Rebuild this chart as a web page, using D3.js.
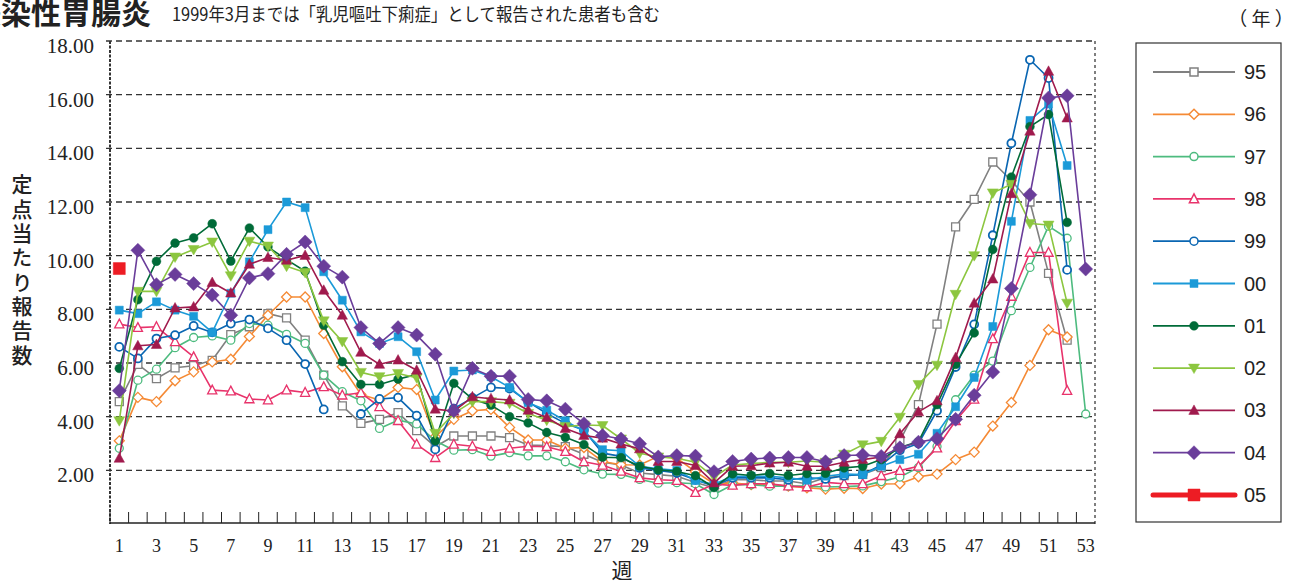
<!DOCTYPE html>
<html><head><meta charset="utf-8">
<script src="https://cdn.jsdelivr.net/npm/d3@7"></script>
<style>body{margin:0;background:#fff}svg{display:block}</style>
</head><body>
<svg id="c" width="1305" height="585"></svg>
<script>
const weeks = d3.range(1, 54);
const xTickLabels = d3.range(1, 54, 2);
const yTicks = [2, 4, 6, 8, 10, 12, 14, 16, 18];
const seriesNames = ["95","96","97","98","99","00","01","02","03","04","05"];

const v95 = [4.56,5.95,5.42,5.82,5.9,6.1,7.06,7.35,7.84,7.68,6.85,5.55,4.4,3.75,3.9,4.15,3.48,2.88,3.28,3.28,3.28,3.22,2.94,2.92,2.88,2.6,2.3,2.2,1.9,1.84,1.78,1.55,1.35,1.65,1.65,1.6,1.6,1.5,1.72,1.8,1.85,2.1,3.1,4.45,7.45,11.07,12.1,13.49,12.8,12.0,9.34,6.85,null];
const v96 = [3.1,4.72,4.56,5.34,5.67,6.04,6.14,6.99,7.78,8.46,8.46,7.1,5.86,4.83,4.62,5.09,5.01,3.25,3.9,4.22,4.27,3.6,3.13,3.13,2.82,2.85,2.33,2.21,2.2,2.52,2.45,1.95,1.5,1.53,1.47,1.47,1.41,1.35,1.3,1.33,1.32,1.49,1.5,1.76,1.86,2.4,2.68,3.65,4.53,5.91,7.24,6.97,null];
const v97 = [2.82,5.36,5.77,6.57,6.95,7.01,6.85,7.47,7.41,7.07,6.73,5.55,4.93,4.59,3.56,3.87,3.73,3.1,2.75,2.77,2.53,2.66,2.54,2.54,2.32,2.02,1.86,1.85,1.66,1.52,1.54,1.5,1.1,1.46,1.46,1.41,1.41,1.41,1.38,1.4,1.42,1.58,1.75,2.1,2.89,4.63,5.55,6.07,7.95,9.56,11.1,10.65,4.1];
const v98 = [7.45,7.32,7.35,6.79,6.23,4.99,4.95,4.66,4.62,4.99,4.9,5.11,4.8,4.89,4.37,3.85,2.97,2.47,2.97,2.9,2.7,2.82,2.9,2.88,2.7,2.32,2.19,1.96,1.72,1.65,1.62,1.17,1.48,1.44,1.5,1.5,1.41,1.38,1.55,1.5,1.5,1.8,1.99,2.15,2.83,3.85,4.65,6.9,8.48,10.12,10.12,4.97,null];
const v99 = [6.6,6.17,6.91,7.04,7.38,7.14,7.47,7.62,7.29,6.85,5.96,4.27,null,4.1,4.66,4.71,4.04,2.78,4.3,4.7,5.09,5.05,4.55,4.12,3.75,3.5,2.64,2.52,2.09,2.0,1.9,1.65,1.41,1.72,1.72,1.72,1.65,1.72,1.68,1.8,1.85,2.2,2.75,3.0,4.22,5.85,7.44,10.76,14.19,17.3,16.62,9.47,null];
const v00 = [7.97,7.84,8.28,7.97,7.74,7.14,8.6,9.77,10.97,12.0,11.79,9.4,8.34,7.16,6.73,6.98,6.42,4.62,5.7,5.74,5.49,5.09,4.52,4.24,3.85,3.45,2.77,2.73,2.15,2.06,2.0,1.62,1.48,1.78,1.78,1.78,1.72,1.63,1.78,1.86,1.84,2.15,2.4,2.6,3.38,4.37,5.46,7.36,11.28,15.04,15.65,13.36,null];
const v01 = [5.8,8.36,9.79,10.47,10.66,11.19,9.8,11.03,10.33,9.85,9.42,7.41,6.05,5.2,5.2,5.4,5.57,3.1,5.24,4.66,4.43,4.0,3.77,3.41,3.23,2.96,2.49,2.47,2.15,2.02,1.96,1.8,1.36,1.87,1.81,1.88,1.81,1.88,1.89,2.09,2.15,2.4,2.85,3.07,4.45,5.95,7.12,10.23,12.93,14.81,15.26,11.24,null];
const v02 = [3.85,8.67,8.67,9.95,10.23,10.51,9.25,10.54,10.36,9.61,9.37,7.57,6.8,5.65,5.49,5.61,5.45,3.38,4.12,4.56,4.56,4.5,4.12,3.87,3.63,3.69,3.67,3.17,2.64,2.5,2.45,2.3,1.75,2.2,2.25,2.3,2.3,2.35,2.3,2.6,2.95,3.08,3.98,5.2,5.92,8.56,10.0,12.34,12.66,11.2,11.14,8.23,null];
const v03 = [2.45,6.64,6.69,8.05,8.09,9.0,8.61,9.68,9.93,9.83,10.01,8.71,7.78,6.4,5.95,6.11,5.73,4.28,4.2,4.74,4.67,4.62,4.24,3.97,3.56,3.3,3.2,2.98,2.8,2.33,2.33,2.18,1.53,2.15,2.17,2.27,2.3,2.15,2.15,2.3,2.4,2.5,3.36,4.18,4.59,6.2,8.23,9.13,12.31,14.64,16.87,15.13,null];
const v04 = [4.97,10.2,8.92,9.3,8.96,8.53,7.78,9.17,9.33,10.05,10.51,9.61,9.2,7.32,6.73,7.32,7.04,6.33,4.22,5.8,5.51,5.51,4.64,4.59,4.28,3.74,3.3,3.17,2.99,2.5,2.55,2.53,1.95,2.33,2.42,2.46,2.48,2.48,2.32,2.55,2.57,2.52,2.84,3.05,3.18,3.9,4.8,5.66,8.78,12.27,15.88,15.96,9.5];
const v05 = [9.52,null,null,null,null,null,null,null,null,null,null,null,null,null,null,null,null,null,null,null,null,null,null,null,null,null,null,null,null,null,null,null,null,null,null,null,null,null,null,null,null,null,null,null,null,null,null,null,null,null,null,null,null];

const seriesValues = [v95, v96, v97, v98, v99, v00, v01, v02, v03, v04, v05];
const colors = ["#808080","#f58a35","#4dbb7f","#e8336b","#0a66b2","#1b9ad8","#006b38","#8cc63f","#a01a4d","#6a3d9a","#ed1c24"];
const markerTypes = ["sqOpen","diaOpen","circOpen","triOpen","circOpen","sq","circ","triDown","tri","dia","sqBig"];

const svg = d3.select("#c");
const x = d3.scaleBand().domain(weeks).range([110, 1095]);
const y = d3.scaleLinear().domain([0, 18]).range([524, 41]);
const cx = w => x(w) + x.bandwidth() / 2;

function markerPath(t) {
  switch (t) {
    case "sqOpen": return "M-4,-4H4V4H-4Z";
    case "sq": return "M-4,-4H4V4H-4Z";
    case "sqBig": return "M-6,-6H6V6H-6Z";
    case "diaOpen": return "M0,-5L5,0L0,5L-5,0Z";
    case "dia": return "M0,-7L7,0L0,7L-7,0Z";
    case "tri": return "M0,-5.5L5.2,4L-5.2,4Z";
    case "triOpen": return "M0,-5L4.6,3.8L-4.6,3.8Z";
    case "triDown": return "M0,5.5L5.5,-4L-5.5,-4Z";
    case "circ": return d3.arc()({innerRadius:0, outerRadius:4.4, startAngle:0, endAngle:2*Math.PI});
    case "circOpen": return d3.arc()({innerRadius:0, outerRadius:4, startAngle:0, endAngle:2*Math.PI});
  }
}
const isOpen = t => t.endsWith("Open");

// Title (left part runs off the page as in the reference)
svg.append("text").attr("x", 151).attr("y", 24).attr("text-anchor", "end")
  .attr("font-family", "Noto Sans CJK JP").attr("font-weight", 700).attr("font-size", 30)
  .attr("fill", "#222").text("感染性胃腸炎");
svg.append("text").attr("x", 172).attr("y", 21)
  .attr("font-family", "Noto Sans CJK JP").attr("font-size", 18).attr("fill", "#222")
  .attr("textLength", 488).attr("lengthAdjust", "spacingAndGlyphs")
  .text("1999年3月までは「乳児嘔吐下痢症」として報告された患者も含む");
svg.append("text").attr("x", 1261).attr("y", 26).attr("text-anchor", "middle")
  .attr("font-family", "Noto Sans CJK JP").attr("font-size", 19).attr("fill", "#222")
  .text("（ 年 ）");

// Gridlines
svg.append("g").selectAll("line").data(yTicks).join("line")
  .attr("x1", 106).attr("x2", 1095).attr("y1", d => y(d)).attr("y2", d => y(d))
  .attr("stroke", "#333").attr("stroke-width", 1.4).attr("stroke-dasharray", "6,4");

// Left axis
svg.append("line").attr("x1", 110).attr("x2", 110).attr("y1", 41).attr("y2", 524)
  .attr("stroke", "#333").attr("stroke-width", 2).attr("stroke-dasharray", "3,1.5");
// Right border
svg.append("line").attr("x1", 1095).attr("x2", 1095).attr("y1", 41).attr("y2", 524)
  .attr("stroke", "#555").attr("stroke-width", 1.5).attr("stroke-dasharray", "3,3");

// Y labels
svg.append("g").selectAll("text").data(yTicks).join("text")
  .attr("x", 94).attr("y", d => y(d) + 12).attr("text-anchor", "end")
  .attr("font-family", "Liberation Serif").attr("font-size", 21).attr("fill", "#222")
  .text(d => d3.format(".2f")(d));

// Y title (vertical writing)
svg.append("text").attr("x", 22).attr("y", 174)
  .attr("style", "writing-mode: vertical-rl; letter-spacing: 3.3px;")
  .attr("font-family", "Noto Sans CJK JP").attr("font-weight", 500).attr("font-size", 21).attr("fill", "#222")
  .text("定点当たり報告数");

// Bottom axis
const bottomAxis = d3.axisBottom(x).tickValues(xTickLabels).tickSize(0).tickPadding(0);
const gx = svg.append("g").attr("transform", "translate(0,523)").call(bottomAxis);
gx.select(".domain").remove();
gx.selectAll("text").attr("y", 29).attr("dy", 0).attr("font-family", "Liberation Serif")
  .attr("font-size", 18).attr("fill", "#222");
svg.append("line").attr("x1", 110).attr("x2", 1095).attr("y1", 523).attr("y2", 523)
  .attr("stroke", "#222").attr("stroke-width", 1.5);
svg.append("g").selectAll("line").data(weeks).join("line")
  .attr("x1", d => x(d)).attr("x2", d => x(d)).attr("y1", 512).attr("y2", 523)
  .attr("stroke", "#222").attr("stroke-width", 1);
svg.append("text").attr("x", 622).attr("y", 578).attr("text-anchor", "middle")
  .attr("font-family", "Noto Sans CJK JP").attr("font-size", 21).attr("fill", "#222").text("週");

// Series
const line = d3.line().defined(d => d.v != null).x(d => cx(d.w)).y(d => y(d.v));
seriesNames.forEach((name, i) => {
  const data = weeks.map((w, j) => ({w: w, v: seriesValues[i][j]}));
  const g = svg.append("g");
  g.append("path").datum(data).attr("d", line).attr("fill", "none")
    .attr("stroke", colors[i]).attr("stroke-width", 1.6).attr("stroke-linejoin", "round");
  const t = markerTypes[i];
  g.selectAll("path.m").data(data.filter(d => d.v != null)).join("path").attr("class", "m")
    .attr("transform", d => `translate(${cx(d.w)},${y(d.v)})`)
    .attr("d", markerPath(t))
    .attr("fill", isOpen(t) ? "#fff" : colors[i])
    .attr("stroke", colors[i]).attr("stroke-width", isOpen(t) ? (name === "99" ? 1.8 : 1.3) : 0.5);
});

// Legend
svg.append("rect").attr("x", 1136).attr("y", 43).attr("width", 145).attr("height", 479)
  .attr("fill", "none").attr("stroke", "#333").attr("stroke-width", 1.2);
const lg = svg.append("g").selectAll("g").data(seriesNames).join("g")
  .attr("transform", (d, i) => `translate(0,${72 + i * 42.3})`);
lg.append("line").attr("x1", 1153).attr("x2", 1235).attr("y1", 0).attr("y2", 0)
  .attr("stroke", (d, i) => colors[i]).attr("stroke-width", (d, i) => i === 10 ? 5 : 1.8)
  .attr("stroke-linecap", (d, i) => i === 10 ? "round" : "butt");
lg.append("path").attr("transform", "translate(1194,0)")
  .attr("d", (d, i) => markerPath(markerTypes[i]))
  .attr("fill", (d, i) => isOpen(markerTypes[i]) ? "#fff" : colors[i])
  .attr("stroke", (d, i) => colors[i]).attr("stroke-width", (d, i) => isOpen(markerTypes[i]) ? 1.5 : 0.5);
lg.append("text").attr("x", 1244).attr("y", 7)
  .attr("font-family", "Liberation Sans").attr("font-size", 20).attr("fill", "#222")
  .text(d => d);
</script>
</body></html>
